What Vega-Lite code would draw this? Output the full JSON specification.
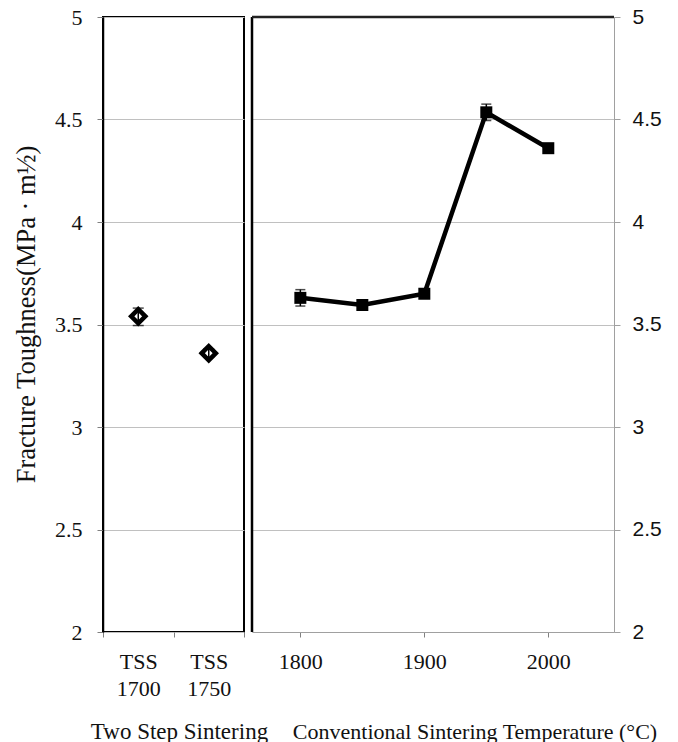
{
  "$schema": "https://vega.github.io/schema/vega-lite/v6.json",
  "background": "white",
  "padding": {"left": 12, "top": 5, "right": 5, "bottom": 5},
  "spacing": 8,
  "bounds": "flush",
  "config": {
    "view": {"stroke": null},
    "style": {
      "guide-label": {"font": "Liberation Serif"},
      "guide-title": {"font": "Liberation Serif"}
    },
    "axis": {
      "labelFont": "Liberation Serif",
      "titleFont": "Liberation Serif",
      "labelColor": "#111111",
      "titleColor": "#111111",
      "titleFontWeight": "normal"
    }
  },
  "hconcat": [
    {
      "width": 141,
      "height": 615,
      "view": {"stroke": "black", "strokeWidth": 2},
      "data": {"values": [
        {"group": "TSS 1700", "value": 3.54, "lo": 3.495, "hi": 3.58},
        {"group": "TSS 1750", "value": 3.36, "lo": 3.34, "hi": 3.38}
      ]},
      "encoding": {
        "x": {
          "field": "group", "type": "nominal", "sort": null,
          "scale": {"type": "band", "paddingInner": 0, "paddingOuter": 0},
          "axis": {
            "title": "Two Step Sintering",
            "labelExpr": "split(datum.label, ' ')",
            "labelFont": "Liberation Serif",
            "labelAngle": 0, "labelFontSize": 22, "labelLineHeight": 27,
            "tickBand": "extent", "domain": false, "ticks": true,
            "tickColor": "#808080", "tickSize": 5, "labelPadding": 14, "grid": false,
            "titleFont": "Liberation Serif",
            "titleFontSize": 23, "titleX": 76, "titleY": 106, "titleBaseline": "alphabetic"
          }
        }
      },
      "layer": [
        {
          "mark": {"type": "point", "shape": "diamond", "filled": true, "fill": "white", "stroke": "black", "strokeWidth": 4.5, "size": 200, "opacity": 1},
          "encoding": {
            "y": {
              "field": "value", "type": "quantitative",
              "scale": {"domain": [2, 5], "nice": false, "zero": false},
              "axis": {
                "values": [2, 2.5, 3, 3.5, 4, 4.5, 5], "format": "~g",
                "labelFont": "Liberation Serif",
                "labelFontSize": 22, "labelPadding": 15, "tickSize": 6,
                "tickColor": "#808080", "domainColor": "black", "domainWidth": 1.5,
                "gridColor": "#c0c0c0", "grid": true,
                "title": "Fracture  Toughness(MPa · m½)",
                "titleFont": "Liberation Serif",
                "titleFontSize": 26.5, "titleX": -69, "titleY": 297,
                "titleBaseline": "alphabetic", "titleAngle": -90, "titleAlign": "center"
              }
            }
          }
        },
        {
          "mark": {"type": "rule", "color": "black", "strokeWidth": 1.5},
          "encoding": {"y": {"field": "lo", "type": "quantitative"}, "y2": {"field": "hi"}}
        },
        {
          "mark": {"type": "tick", "orient": "horizontal", "color": "black", "thickness": 1.5, "size": 11},
          "encoding": {"y": {"field": "hi", "type": "quantitative"}}
        },
        {
          "mark": {"type": "tick", "orient": "horizontal", "color": "black", "thickness": 1.5, "size": 11},
          "encoding": {"y": {"field": "lo", "type": "quantitative"}}
        }
      ]
    },
    {
      "width": 362,
      "height": 615,
      "data": {"values": [
        {"temp": 1800, "value": 3.63, "lo": 3.59, "hi": 3.67},
        {"temp": 1850, "value": 3.595, "lo": 3.585, "hi": 3.605},
        {"temp": 1900, "value": 3.65, "lo": 3.635, "hi": 3.665},
        {"temp": 1950, "value": 4.535, "lo": 4.495, "hi": 4.575},
        {"temp": 2000, "value": 4.36, "lo": 4.35, "hi": 4.37}
      ]},
      "layer": [
        {
          "mark": {"type": "line", "color": "black", "strokeWidth": 4.5},
          "encoding": {
            "x": {
              "field": "temp", "type": "quantitative",
              "scale": {"domain": [1761, 2053], "nice": false, "zero": false},
              "axis": {
                "values": [1800, 1900, 2000], "format": "d",
                "labelFont": "Liberation Serif",
                "labelFontSize": 22, "labelPadding": 14, "tickSize": 5,
                "tickColor": "#808080", "domainColor": "#a0a0a0", "grid": false,
                "title": "Conventional Sintering Temperature (°C)",
                "titleFont": "Liberation Serif",
                "titleFontSize": 22, "titleX": 222.5, "titleY": 106, "titleBaseline": "alphabetic"
              }
            },
            "y": {
              "field": "value", "type": "quantitative",
              "scale": {"domain": [2, 5], "nice": false, "zero": false},
              "axis": {
                "orient": "right",
                "values": [2, 2.5, 3, 3.5, 4, 4.5, 5], "format": "~g",
                "labelFont": "Liberation Sans", "labelFontSize": 21, "labelPadding": 12,
                "tickSize": 6, "tickColor": "#a0a0a0", "domainColor": "#a0a0a0",
                "gridColor": "#c0c0c0", "grid": true, "title": null
              }
            }
          }
        },
        {
          "mark": {"type": "point", "shape": "square", "filled": true, "color": "black", "size": 144, "opacity": 1},
          "encoding": {
            "x": {"field": "temp", "type": "quantitative"},
            "y": {"field": "value", "type": "quantitative"}
          }
        },
        {
          "mark": {"type": "rule", "color": "black", "strokeWidth": 1.5},
          "encoding": {
            "x": {"field": "temp", "type": "quantitative"},
            "y": {"field": "lo", "type": "quantitative"}, "y2": {"field": "hi"}
          }
        },
        {
          "mark": {"type": "tick", "orient": "horizontal", "color": "black", "thickness": 1.5, "size": 10},
          "encoding": {
            "x": {"field": "temp", "type": "quantitative"},
            "y": {"field": "hi", "type": "quantitative"}
          }
        },
        {
          "mark": {"type": "tick", "orient": "horizontal", "color": "black", "thickness": 1.5, "size": 10},
          "encoding": {
            "x": {"field": "temp", "type": "quantitative"},
            "y": {"field": "lo", "type": "quantitative"}
          }
        },
        {
          "data": {"values": [{}]},
          "mark": {"type": "rule", "color": "black", "strokeWidth": 2.5},
          "encoding": {"x": {"datum": 1761, "type": "quantitative"}}
        },
        {
          "data": {"values": [{}]},
          "mark": {"type": "rule", "color": "#222222", "strokeWidth": 2.5},
          "encoding": {"y": {"datum": 5, "type": "quantitative"}}
        }
      ]
    }
  ]
}
